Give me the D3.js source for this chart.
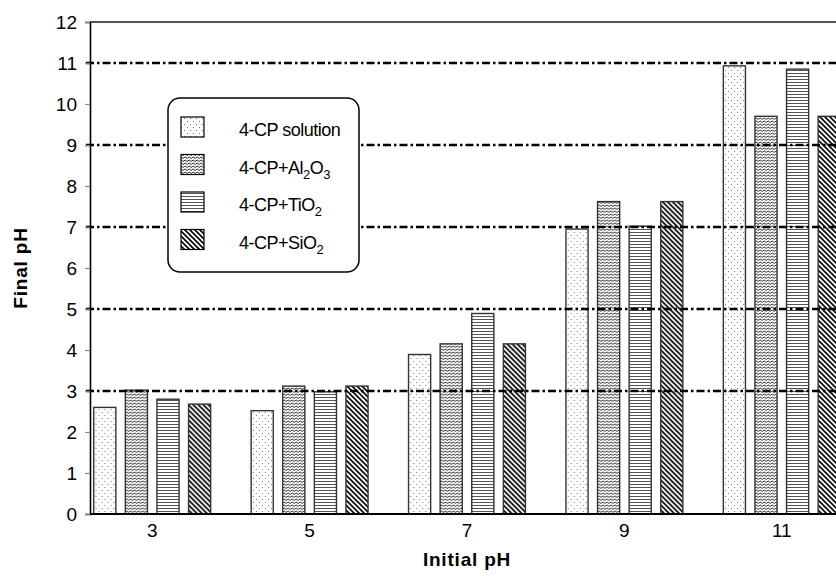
<!DOCTYPE html>
<html>
<head>
<meta charset="utf-8">
<title>Final pH vs initial pH</title>
<script src="https://cdnjs.cloudflare.com/ajax/libs/d3/7.8.5/d3.min.js"></script>
<style>
  body { margin: 0; background: #fff; }
  svg text { font-family: "Liberation Sans", Arial, sans-serif; fill: #000; }
</style>
</head>
<body>
<script>
// data
const categories = ["3", "5", "7", "9", "11"];
const seriesNames = ["solution", "al2o3", "tio2", "sio2"];
const solution = [2.60, 2.52, 3.89, 6.95, 10.93];
const al2o3   = [3.02, 3.12, 4.15, 7.62, 9.70];
const tio2    = [2.80, 2.98, 4.89, 7.02, 10.85];
const sio2    = [2.68, 3.12, 4.15, 7.62, 9.70];
const yTicks = [0, 1, 2, 3, 4, 5, 6, 7, 8, 9, 10, 11, 12];
const refLines = [3, 5, 7, 9, 11];

const W = 836, H = 576;
const svg = d3.select("body").append("svg").attr("width", W).attr("height", H);

// patterns
const defs = svg.append("defs");
let p = defs.append("pattern").attr("id", "pat-solution").attr("patternUnits", "userSpaceOnUse")
  .attr("width", 6).attr("height", 6);
p.append("rect").attr("width", 6).attr("height", 6).attr("fill", "#fff");
p.append("rect").attr("x", 1).attr("y", 1).attr("width", 1).attr("height", 1).attr("fill", "#777");
p.append("rect").attr("x", 4).attr("y", 4).attr("width", 1).attr("height", 1).attr("fill", "#777");

p = defs.append("pattern").attr("id", "pat-al2o3").attr("patternUnits", "userSpaceOnUse")
  .attr("width", 4).attr("height", 3);
p.append("rect").attr("width", 4).attr("height", 3).attr("fill", "#fff");
p.append("path").attr("d", "M0,2 Q1,0 2,1.5 T4,2").attr("fill", "none").attr("stroke", "#333").attr("stroke-width", 1);

p = defs.append("pattern").attr("id", "pat-tio2").attr("patternUnits", "userSpaceOnUse")
  .attr("width", 6).attr("height", 3);
p.append("rect").attr("width", 6).attr("height", 3).attr("fill", "#fff");
p.append("rect").attr("y", 1).attr("width", 6).attr("height", 1).attr("fill", "#555");

p = defs.append("pattern").attr("id", "pat-sio2").attr("patternUnits", "userSpaceOnUse")
  .attr("width", 5).attr("height", 5);
p.append("rect").attr("width", 5).attr("height", 5).attr("fill", "#fff");
p.append("path").attr("d", "M0,0 L5,5 M-1,4 L1,6 M4,-1 L6,1")
  .attr("stroke", "#000").attr("stroke-width", 1.6);

// scales
const y = d3.scaleLinear().domain([0, 12]).range([514, 22]);
const x = d3.scaleBand().domain(categories).range([73.5, 73.5 + 157.4 * 5]).padding(0);
const groupW = 126.4;
const xIn = d3.scaleBand().domain(seriesNames)
  .range([(x.bandwidth() - groupW) / 2, (x.bandwidth() + groupW) / 2])
  .paddingInner(0.3).paddingOuter(0.15);

const values = { solution, al2o3, tio2, sio2 };

// bars
const groups = svg.append("g").selectAll("g").data(categories).join("g")
  .attr("transform", d => `translate(${x(d)},0)`);
groups.selectAll("rect")
  .data((c, i) => seriesNames.map(s => ({ s, v: values[s][i] })))
  .join("rect")
  .attr("x", d => xIn(d.s))
  .attr("y", d => y(d.v))
  .attr("width", xIn.bandwidth())
  .attr("height", d => y(0) - y(d.v))
  .attr("fill", d => `url(#pat-${d.s})`)
  .attr("stroke", "#333")
  .attr("stroke-width", 1.4);

// dash-dot reference lines
svg.append("g").selectAll("line").data(refLines).join("line")
  .attr("x1", 86).attr("x2", W)
  .attr("y1", d => y(d)).attr("y2", d => y(d))
  .attr("stroke", "#000").attr("stroke-width", 2.6)
  .attr("stroke-dasharray", "8,3,2.5,3");

// frame top
svg.append("line").attr("x1", 90).attr("x2", W).attr("y1", 22).attr("y2", 22)
  .attr("stroke", "#555").attr("stroke-width", 1.8);

// y axis
const yAxis = svg.append("g").attr("transform", "translate(90,0)")
  .call(d3.axisLeft(y).tickValues(yTicks).tickSize(5).tickPadding(8).tickFormat(d3.format("d")));
yAxis.attr("font-family", null);
yAxis.select(".domain").attr("stroke", "#000").attr("stroke-width", 1.6);
yAxis.selectAll(".tick line").attr("stroke", "#888").attr("stroke-width", 1.2);
yAxis.selectAll("text").style("font-size", "19px").attr("dy", "0.35em");

// x axis
const xAxis = svg.append("g").attr("transform", "translate(0,514)")
  .call(d3.axisBottom(x).tickSize(0).tickPadding(10));
xAxis.attr("font-family", null);
xAxis.select(".domain").attr("d", `M90,0H${W}`).attr("stroke", "#000").attr("stroke-width", 1.8);
xAxis.selectAll("text").style("font-size", "19px");

// axis titles
svg.append("text").attr("x", 467).attr("y", 566).attr("text-anchor", "middle")
  .style("font-size", "19px").style("font-weight", "bold").style("letter-spacing", "0.8px")
  .text("Initial pH");
svg.append("text").attr("transform", "translate(27,268) rotate(-90)").attr("text-anchor", "middle")
  .style("font-size", "19px").style("font-weight", "bold").style("letter-spacing", "0.8px")
  .text("Final pH");

// legend
const legend = svg.append("g");
legend.append("rect").attr("x", 168).attr("y", 98).attr("width", 191).attr("height", 174)
  .attr("rx", 12).attr("fill", "#fff").attr("stroke", "#000").attr("stroke-width", 1.5);
const labels = [
  [["4-CP solution", 0]],
  [["4-CP+Al", 0], ["2", 1], ["O", 0], ["3", 1]],
  [["4-CP+TiO", 0], ["2", 1]],
  [["4-CP+SiO", 0], ["2", 1]]
];
seriesNames.forEach((s, i) => {
  const top = 117 + i * 37.5;
  legend.append("rect").attr("x", 181).attr("y", top).attr("width", 23).attr("height", 20)
    .attr("fill", `url(#pat-${s})`).attr("stroke", "#000").attr("stroke-width", 1.2);
  const t = legend.append("text").attr("x", 239).attr("y", top + 19)
    .style("font-size", "18px").style("letter-spacing", "-0.5px");
  let sub = false;
  labels[i].forEach(([str, isSub]) => {
    const ts = t.append("tspan").text(str);
    if (isSub && !sub) { ts.attr("dy", 5).style("font-size", "13px"); sub = true; }
    else if (isSub && sub) { ts.style("font-size", "13px"); }
    else if (!isSub && sub) { ts.attr("dy", -5); sub = false; }
  });
});
</script>
</body>
</html>
